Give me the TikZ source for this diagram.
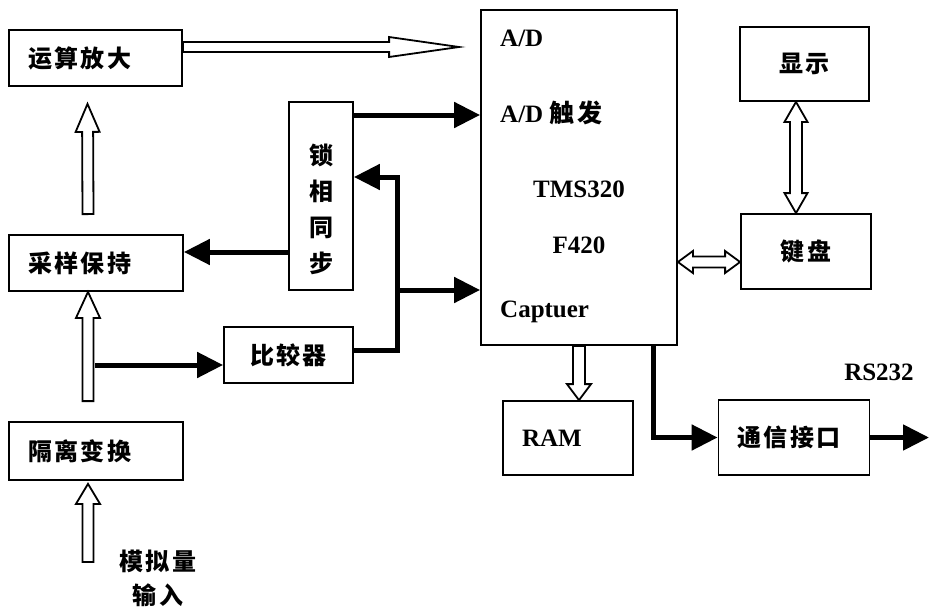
\documentclass[tikz,border=0pt]{standalone}
\usepackage{fontspec}
\setmainfont{Liberation Serif}
\newfontfamily\cjk{Noto Sans CJK SC}[LetterSpace=10]
\usetikzlibrary{arrows.meta,calc}
\tikzset{
  blk/.style={draw,line width=1.8pt,inner xsep=19pt,inner ysep=0pt,align=left,font=\cjk\bfseries\fontsize{24}{36}\selectfont},
  cblk/.style={blk,align=center,inner xsep=0pt},
  lbl/.style={inner sep=0pt,font=\bfseries\fontsize{25}{30}\selectfont},
  cjklbl/.style={inner sep=0pt,align=center,font=\cjk\bfseries\fontsize{24}{36}\selectfont},
  sig/.style={line width=5pt,-{Triangle[length=26pt,width=25pt]}},
  head len/.store in=\hhl, head wid/.store in=\hhw, shaft wid/.store in=\hsw,
  hollow/.style={draw,line width=1.8pt,fill=white,head len=26pt,head wid=12pt,shaft wid=5.5pt,
    to path={($(\tikztostart)!\hsw!90:(\tikztotarget)$)
      -- ($ ($(\tikztotarget)!\hhl!(\tikztostart)$)!\hsw!90:(\tikztotarget) $)
      -- ($ ($(\tikztotarget)!\hhl!(\tikztostart)$)!\hhw!90:(\tikztotarget) $)
      -- (\tikztotarget)
      -- ($ ($(\tikztotarget)!\hhl!(\tikztostart)$)!\hhw!-90:(\tikztotarget) $)
      -- ($ ($(\tikztotarget)!\hhl!(\tikztostart)$)!\hsw!-90:(\tikztotarget) $)
      -- ($(\tikztostart)!\hsw!-90:(\tikztotarget)$) -- cycle}},
  hollow2/.style={draw,line width=1.8pt,fill=white,head len=20pt,head wid=11.5pt,shaft wid=6pt,
    to path={(\tikztostart)
      -- ($ ($(\tikztostart)!\hhl!(\tikztotarget)$)!\hhw!90:(\tikztotarget) $)
      -- ($ ($(\tikztostart)!\hhl!(\tikztotarget)$)!\hsw!90:(\tikztotarget) $)
      -- ($ ($(\tikztotarget)!\hhl!(\tikztostart)$)!\hsw!90:(\tikztotarget) $)
      -- ($ ($(\tikztotarget)!\hhl!(\tikztostart)$)!\hhw!90:(\tikztotarget) $)
      -- (\tikztotarget)
      -- ($ ($(\tikztotarget)!\hhl!(\tikztostart)$)!\hhw!-90:(\tikztotarget) $)
      -- ($ ($(\tikztotarget)!\hhl!(\tikztostart)$)!\hsw!-90:(\tikztotarget) $)
      -- ($ ($(\tikztostart)!\hhl!(\tikztotarget)$)!\hsw!-90:(\tikztotarget) $)
      -- ($ ($(\tikztostart)!\hhl!(\tikztotarget)$)!\hhw!-90:(\tikztotarget) $) -- cycle}}
}

\begin{document}
\begin{tikzpicture}[x=1pt,y=-1pt]
  \useasboundingbox (0,0) rectangle (929,610);
  % blocks
  \node[blk,text width=135pt,minimum height=56pt] (amp) at (95.5,58) {运算放大};
  \node[blk,text width=136pt,minimum height=56pt] (sh) at (96,263) {采样保持};
  \node[blk,text width=136pt,minimum height=58pt] (iso) at (96,451) {隔离变换};
  \node[draw,line width=1.8pt,minimum width=64pt,minimum height=188pt] (pll) at (321,196) {};
  \node[cjklbl] (pllt) at (321,209) {锁\\相\\同\\步};
  \node[cblk,minimum width=129pt,minimum height=56pt] (cmp) at (288.5,355) {比较器};
  \node[draw,line width=1.8pt,minimum width=196pt,minimum height=335pt] (tms) at (579,177.5) {};
  \node[cblk,minimum width=129pt,minimum height=74pt] (disp) at (804.5,64) {显示};
  \node[cblk,minimum width=130pt,minimum height=75pt] (kbd) at (806,251.5) {键盘};
  \node[blk,text width=92pt,minimum height=74pt,font=\bfseries\fontsize{25}{30}\selectfont] (ram) at (568,438) {RAM};
  \node[blk,text width=113pt,minimum height=75pt] (com) at (794,437.5) {通信接口};
  % labels
  \node[lbl,anchor=base west] (ad) at (500,47) {A/D};
  \node[lbl,anchor=base west] (adtrig) at (500,122) {A/D {\cjk 触发}};
  \node[lbl,anchor=base] (chip) at (579,197) {TMS320};
  \node[lbl,anchor=base] (chipb) at (579,253) {F420};
  \node[lbl,anchor=base west] (cap) at (500,317) {Captuer};
  \node[lbl,anchor=base] (rs) at (879,380) {RS232};
  \node[cjklbl,font=\cjk\bfseries\fontsize{24}{34}\selectfont] (inlbl) at (158,578) {模拟量\\输入};
  \coordinate (ain) at (88,562);
  \coordinate (tap) at (95,365);
  \coordinate (fb) at (397,177);
  \coordinate (br) at (397,290);
  \coordinate (out) at (929,437.5);
  % hollow (analog) paths
  \draw[hollow,head len=70pt,head wid=10pt,shaft wid=5pt] ($(amp.east)+(0,-11)$) to ($(tms.west |- amp.east)+(-21,-11)$);
  \draw[hollow,head len=28pt] ($(sh.north)+(-8,-20)$) to ($(amp.south)+(-8,17)$);
  \draw[hollow] ($(iso.north)+(-8,-20)$) to ($(sh.south)+(-8,0)$);
  \draw[hollow,head len=20pt] (ain) to ($(iso.south)+(-8,3)$);
  \draw[hollow,head len=16pt,shaft wid=6pt] (tms.south) to (tms.south |- ram.north);
  \draw[hollow2] ($(disp.south)+(-8.5,0)$) to ($(kbd.north)+(-10,0)$);
  \draw[hollow2,head len=15pt,head wid=11pt,shaft wid=5.5pt] (tms.east |- 0,262) to (kbd.west |- 0,262);
  % signal paths
  \draw[sig] (tap) -- (tap -| cmp.west);
  \draw[sig] (pll.west |- 0,252) -- (sh.east |- 0,252);
  \draw[sig] (pll.east |- 0,115) -- (tms.west |- 0,115);
  \draw[sig] (cmp.east |- 0,350) -| (fb) -- (pll.east |- fb);
  \draw[sig] (br) -- (tms.west |- br);
  \draw[sig] (tms.south -| 653,0) |- (com.west);
  \draw[sig] (com.east) -- (out);
\end{tikzpicture}
\end{document}
